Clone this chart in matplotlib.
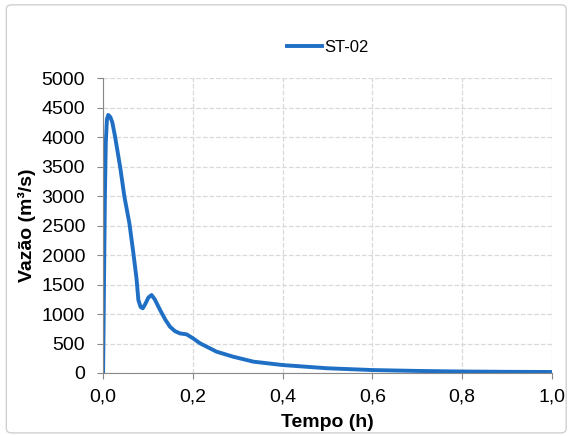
import matplotlib.pyplot as plt
from matplotlib.patches import FancyBboxPatch

# Hydrograph ST-02
tempo = [0.0, 0.002, 0.004, 0.006, 0.0085, 0.0115, 0.016, 0.0205, 0.0267, 0.0379,
         0.0475, 0.0586, 0.0675, 0.0745, 0.0786, 0.0835, 0.0884, 0.094, 0.101, 0.108,
         0.115, 0.127, 0.139, 0.149, 0.16, 0.171, 0.186, 0.2, 0.216, 0.253,
         0.29, 0.335, 0.4, 0.5, 0.6, 0.7, 0.8, 0.9, 1.0]
vazao = [0, 1500, 3000, 3900, 4300, 4375, 4340, 4250, 4006, 3497,
         2988, 2537, 2029, 1600, 1237, 1120, 1097, 1170, 1280, 1322,
         1250, 1068, 900, 785, 710, 672, 655, 590, 503, 361,
         276, 192, 135, 80, 50, 35, 25, 20, 17]

plt.rcParams['font.family'] = ['Liberation Sans', 'DejaVu Sans']

fig = plt.figure(figsize=(5.76, 4.36), dpi=100)
fig.patches.append(FancyBboxPatch((0.011, 0.007), 0.972, 0.982, boxstyle="round,pad=0,rounding_size=0.01",
                                  transform=fig.transFigure, fill=False, edgecolor='#d0d0d0', linewidth=1))
ax = fig.add_axes([0.179, 0.1445, 0.779, 0.6765])

ax.plot(tempo, vazao, color='#1f6fc5', linewidth=2.8, label='ST-02', solid_joinstyle='round')

ax.set_xlim(0, 1.0)
ax.set_ylim(0, 5000)
ax.set_xticks([0, 0.2, 0.4, 0.6, 0.8, 1.0])
ax.set_xticklabels(['0,0', '0,2', '0,4', '0,6', '0,8', '1,0'])
ax.set_yticks(range(0, 5001, 500))
ax.tick_params(labelsize=14, color='#888888', length=4)
ax.tick_params(axis='y', pad=9)
ax.tick_params(axis='x', pad=7)
ax.grid(True, color='#d9d9d9', linestyle='--', linewidth=0.9)
for s in ['top', 'right']:
    ax.spines[s].set_visible(False)
for s in ['left', 'bottom']:
    ax.spines[s].set_color('#888888')
ax.set_xlabel('Tempo (h)', fontsize=14, fontweight='bold', labelpad=6)
ax.set_ylabel('Vazão (m³/s)', fontsize=14, fontweight='bold', labelpad=4)

ax.legend(loc='center', bbox_to_anchor=(0.5, 1.105), frameon=False, fontsize=12,
          handlelength=2.1, handletextpad=0.15)

plt.savefig('out.png')
